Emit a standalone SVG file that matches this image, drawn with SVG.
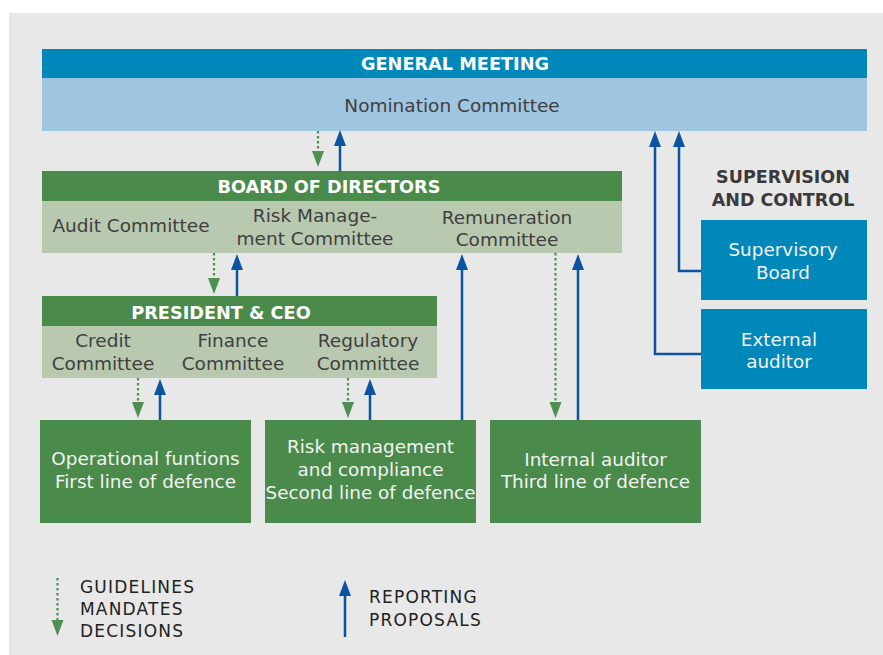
<svg xmlns="http://www.w3.org/2000/svg" width="883" height="655" viewBox="0 0 883 655">
<defs>
<style>
text{font-family:"DejaVu Sans","Liberation Sans",sans-serif;text-anchor:middle}
.t{font-size:17.7px;font-weight:bold;fill:#fff}
.c{font-size:18.5px;fill:#404040}
.w{font-size:18.4px;fill:#f2f2f2}
.h{font-size:17.5px;font-weight:bold;fill:#3a3a3a}
.lg{font-size:17px;fill:#222;text-anchor:start;letter-spacing:1.2px}
.dg{fill:#4A8A4A}
.lgr{fill:#B8C9AF}
.db{fill:#0088BB}
.lb{fill:#9FC6E0}
.rep{fill:none;stroke:#0B55A0;stroke-width:2.5;marker-end:url(#ab)}
.gui{fill:none;stroke:#4F8F4F;stroke-width:2.2;stroke-dasharray:2.5 2.5;marker-end:url(#ag)}
</style>
<marker id="ab" markerUnits="userSpaceOnUse" markerWidth="17" markerHeight="13" refX="0" refY="6" orient="auto"><path d="M0,0 L16,6 L0,12 Z" fill="#0B55A0"/></marker>
<marker id="ag" markerUnits="userSpaceOnUse" markerWidth="17" markerHeight="13" refX="0" refY="6" orient="auto"><path d="M0,0 L16,6 L0,12 Z" fill="#4F8F4F"/></marker>
</defs>
<rect x="9" y="13" width="874" height="642" fill="#E8E8E8"/>

<g id="general-meeting">
<rect class="db" x="42" y="49" width="825" height="29"/>
<rect class="lb" x="42" y="78" width="825" height="53"/>
<text class="t" x="455" y="70">GENERAL MEETING</text>
<text class="c" x="452" y="112">Nomination Committee</text>
</g>

<g id="board">
<rect class="dg" x="42" y="171" width="580" height="30"/>
<rect class="lgr" x="42" y="201" width="580" height="52"/>
<text class="t" x="329" y="193">BOARD OF DIRECTORS</text>
<text class="c" x="131" y="232">Audit Committee</text>
<text class="c" x="315" y="222">Risk Manage-</text>
<text class="c" x="315" y="245">ment Committee</text>
<text class="c" x="507" y="224">Remuneration</text>
<text class="c" x="507" y="246">Committee</text>
</g>

<g id="president">
<rect class="dg" x="42" y="296" width="395" height="30"/>
<rect class="lgr" x="42" y="326" width="395" height="52"/>
<text class="t" x="221" y="319">PRESIDENT &amp; CEO</text>
<text class="c" x="103" y="347">Credit</text>
<text class="c" x="103" y="370">Committee</text>
<text class="c" x="233" y="347">Finance</text>
<text class="c" x="233" y="370">Committee</text>
<text class="c" x="368" y="347">Regulatory</text>
<text class="c" x="368" y="370">Committee</text>
</g>

<g id="operational">
<rect class="dg" x="40" y="420" width="211" height="103"/>
<text class="w" x="145.5" y="465">Operational funtions</text>
<text class="w" x="145.5" y="488">First line of defence</text>
</g>

<g id="risk">
<rect class="dg" x="265" y="420" width="211" height="103"/>
<text class="w" x="370.5" y="453">Risk management</text>
<text class="w" x="370.5" y="476">and compliance</text>
<text class="w" x="370.5" y="499">Second line of defence</text>
</g>

<g id="internal">
<rect class="dg" x="490" y="420" width="211" height="103"/>
<text class="w" x="595.5" y="466">Internal auditor</text>
<text class="w" x="595.5" y="488">Third line of defence</text>
</g>

<g id="supervision-heading">
<text class="h" x="783" y="183">SUPERVISION</text>
<text class="h" x="783" y="206">AND CONTROL</text>
</g>

<g id="supervisory-board">
<rect class="db" x="701" y="220" width="166" height="80"/>
<text class="w" x="783" y="256">Supervisory</text>
<text class="w" x="783" y="279">Board</text>
</g>

<g id="external-auditor">
<rect class="db" x="701" y="309" width="166" height="80"/>
<text class="w" x="779" y="346">External</text>
<text class="w" x="779" y="368">auditor</text>
</g>

<g id="connectors">
<path class="gui" d="M318,131 V151"/>
<path class="rep" d="M340,171 V146"/>
<path class="gui" d="M214,253 V278"/>
<path class="rep" d="M237,296 V270"/>
<path class="gui" d="M138,378 V402"/>
<path class="rep" d="M160,420 V395"/>
<path class="gui" d="M348,378 V402"/>
<path class="rep" d="M370,420 V395"/>
<path class="rep" d="M462,420 V270"/>
<path class="gui" d="M555.5,253 V402"/>
<path class="rep" d="M578,420 V270"/>
<path class="rep" d="M701,271 H679 V147"/>
<path class="rep" d="M701,354 H655 V147"/>
</g>

<g id="legend">
<path class="gui" d="M57.5,578 V620"/>
<text class="lg" x="80" y="593">GUIDELINES</text>
<text class="lg" x="80" y="615">MANDATES</text>
<text class="lg" x="80" y="637">DECISIONS</text>
<path class="rep" d="M345,637 V596"/>
<text class="lg" x="369" y="603">REPORTING</text>
<text class="lg" x="369" y="626">PROPOSALS</text>
</g>
</svg>
